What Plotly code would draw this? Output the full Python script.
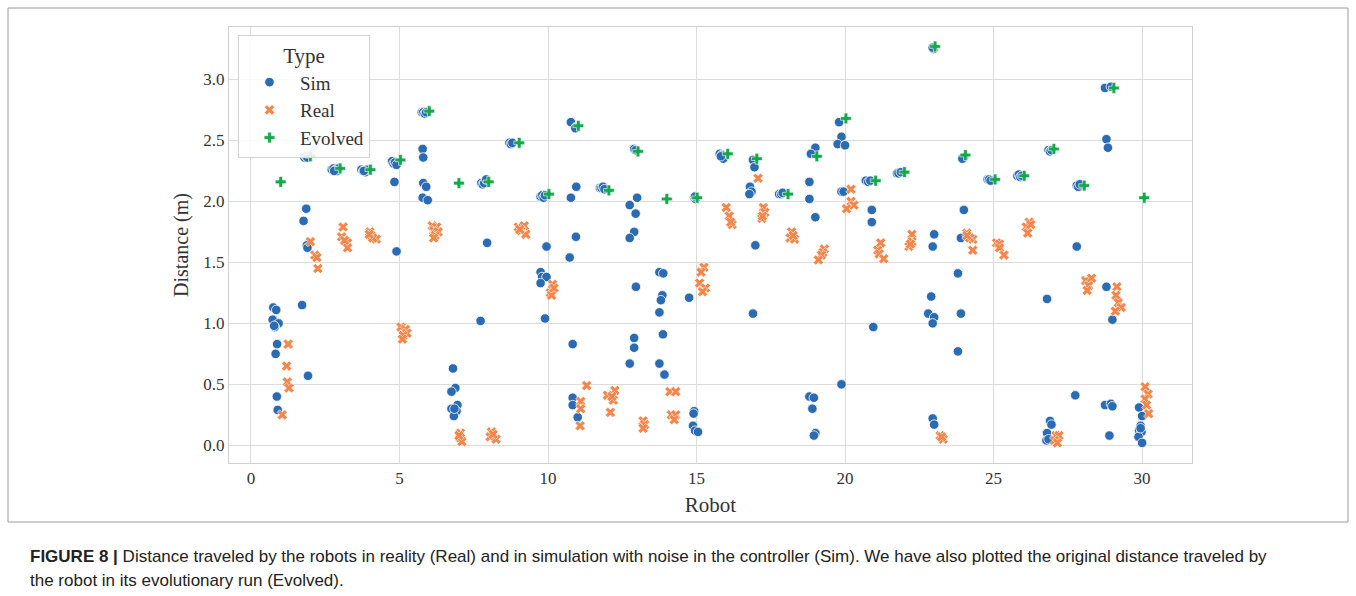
import plotly.graph_objects as go

# ---------------- data ----------------
sim_x = [0.75, 0.85, 0.73, 0.93, 0.80, 0.78, 0.88, 0.83, 0.87, 0.90,
         1.80, 1.85, 1.90, 1.86, 1.77, 1.88, 1.90, 1.72, 1.92,
         2.72, 2.78, 2.85, 2.90, 2.95, 2.80,
         3.72, 3.78, 3.85, 3.90, 3.80,
         4.75, 4.80, 4.85, 4.90, 4.83, 4.90,
         5.75, 5.80, 5.85, 5.90, 5.78, 5.80, 5.80, 5.90, 5.78, 5.95,
         6.80, 6.88, 6.75, 6.95, 6.75, 6.92, 6.83, 6.85,
         7.75, 7.80, 7.85, 7.92, 7.95, 7.73,
         8.70, 8.75, 8.80,
         9.75, 9.80, 9.85, 9.90, 9.95, 9.75, 9.80, 9.95, 9.75, 9.90,
         10.77, 10.95, 10.92, 10.95, 10.77, 10.94, 10.73, 10.83, 10.83, 10.83, 11.00,
         11.75, 11.80, 11.85, 11.90,
         12.90, 12.95, 13.00, 12.75, 12.95, 12.90, 12.75, 12.96, 12.90, 12.90, 12.75,
         13.75, 13.88, 13.85, 13.80, 13.75, 13.87, 13.75, 13.92,
         14.92, 14.97, 14.95, 14.75, 14.92, 14.90, 14.88, 14.95, 15.05,
         15.78, 15.85, 15.90, 15.82,
         16.90, 16.95, 16.80, 16.85, 16.78, 16.98, 16.90,
         17.78, 17.85, 17.90,
         19.00, 18.85, 18.80, 18.80, 19.00, 18.80, 18.95, 18.90, 19.00, 18.95,
         19.80, 19.88, 19.75, 20.00, 19.88, 19.95, 19.88,
         20.70, 20.78, 20.85, 20.90, 20.90, 20.95,
         21.75, 21.80, 21.88,
         22.98, 22.95, 23.00, 22.95, 22.90, 22.80, 23.00, 22.95, 22.95, 23.00,
         24.00, 23.95, 24.00, 23.90, 23.80, 23.90, 23.80,
         24.80, 24.85, 24.90,
         25.80, 25.85, 25.90, 25.95,
         26.85, 26.90, 26.95, 26.80, 26.90, 26.95, 26.80, 26.78, 26.85,
         27.80, 27.85, 27.90, 27.80, 27.75,
         28.75, 28.95, 28.80, 28.85, 28.80, 29.00, 28.75, 28.95, 29.00, 28.90,
         29.90, 30.00, 29.95, 29.90, 29.98, 29.88, 30.00, 29.95]
sim_y = [1.13, 1.11, 1.03, 1.00, 0.97, 0.98, 0.83, 0.75, 0.40, 0.29,
         2.36, 2.37, 2.36, 1.94, 1.84, 1.64, 1.62, 1.15, 0.57,
         2.26, 2.27, 2.26, 2.25, 2.27, 2.25,
         2.26, 2.25, 2.24, 2.26, 2.25,
         2.33, 2.31, 2.32, 2.30, 2.16, 1.59,
         2.73, 2.73, 2.72, 2.73, 2.43, 2.36, 2.15, 2.12, 2.03, 2.01,
         0.63, 0.47, 0.44, 0.33, 0.30, 0.28, 0.24, 0.30,
         2.15, 2.14, 2.15, 2.18, 1.66, 1.02,
         2.48, 2.47, 2.48,
         2.04, 2.05, 2.03, 2.05, 1.63, 1.42, 1.38, 1.38, 1.33, 1.04,
         2.65, 2.61, 2.60, 2.12, 2.03, 1.71, 1.54, 0.83, 0.39, 0.33, 0.23,
         2.11, 2.11, 2.12, 2.10,
         2.43, 2.42, 2.03, 1.97, 1.90, 1.75, 1.70, 1.30, 0.88, 0.80, 0.67,
         1.42, 1.41, 1.23, 1.19, 1.09, 0.91, 0.67, 0.58,
         2.03, 2.02, 2.04, 1.21, 0.28, 0.26, 0.16, 0.12, 0.11,
         2.39, 2.38, 2.35, 2.37,
         2.34, 2.28, 2.12, 2.08, 2.06, 1.64, 1.08,
         2.06, 2.06, 2.07,
         2.44, 2.39, 2.16, 2.02, 1.87, 0.40, 0.39, 0.30, 0.10, 0.08,
         2.65, 2.53, 2.47, 2.46, 2.08, 2.08, 0.50,
         2.17, 2.16, 2.17, 1.93, 1.83, 0.97,
         2.23, 2.23, 2.24,
         3.25, 3.26, 1.73, 1.63, 1.22, 1.08, 1.05, 1.00, 0.22, 0.17,
         2.36, 2.35, 1.93, 1.70, 1.41, 1.08, 0.77,
         2.18, 2.18, 2.17,
         2.21, 2.22, 2.20, 2.21,
         2.42, 2.41, 2.42, 1.20, 0.20, 0.17, 0.10, 0.04, 0.05,
         2.13, 2.12, 2.14, 1.63, 0.41,
         2.93, 2.94, 2.51, 2.44, 1.30, 1.03, 0.33, 0.34, 0.32, 0.08,
         0.31, 0.24, 0.16, 0.12, 0.11, 0.07, 0.02, 0.14]

real_x = [1.25, 1.20, 1.22, 1.28, 1.05,
          2.00, 2.15, 2.22, 2.25,
          3.10, 3.05, 3.25, 3.25, 3.15,
          4.00, 4.05, 4.22, 4.10, 3.98,
          5.05, 5.20, 5.25, 5.12, 5.10,
          6.10, 6.25, 6.15, 6.30, 6.20, 6.15,
          7.05, 7.05, 7.10, 7.00,
          8.10, 8.05, 8.25, 8.15,
          9.00, 9.20, 9.10, 9.25, 9.05,
          10.15, 10.08, 10.12, 10.20,
          11.30, 11.10, 11.10, 11.08,
          12.25, 12.00, 12.20, 12.10, 12.15,
          13.20, 13.25, 13.20,
          14.10, 14.30, 14.15, 14.30, 14.25,
          15.25, 15.15, 15.10, 15.30, 15.20,
          16.00, 16.10, 16.20, 16.15,
          17.07, 17.25, 17.30, 17.20, 17.22,
          18.20, 18.15, 18.30, 18.25,
          19.30, 19.25, 19.20, 19.10,
          20.20, 20.20, 20.30, 20.05,
          21.20, 21.10, 21.15, 21.30,
          22.25, 22.25, 22.15, 22.20,
          23.20, 23.30, 23.25,
          24.10, 24.30, 24.20, 24.30, 24.10,
          25.10, 25.20, 25.20, 25.35,
          26.20, 26.10, 26.15, 26.25,
          27.10, 27.20, 27.05, 27.15,
          28.10, 28.30, 28.20, 28.15,
          29.15, 29.12, 29.20, 29.30, 29.10,
          30.10, 30.20, 30.10, 30.15, 30.22]
real_y = [0.83, 0.65, 0.52, 0.47, 0.25,
          1.67, 1.56, 1.54, 1.45,
          1.79, 1.71, 1.66, 1.62, 1.68,
          1.75, 1.72, 1.69, 1.70, 1.73,
          0.97, 0.95, 0.92, 0.90, 0.87,
          1.80, 1.79, 1.76, 1.75, 1.72, 1.70,
          0.10, 0.06, 0.03, 0.08,
          0.11, 0.07, 0.05, 0.09,
          1.79, 1.80, 1.76, 1.73, 1.77,
          1.32, 1.25, 1.23, 1.29,
          0.49, 0.36, 0.30, 0.16,
          0.45, 0.41, 0.37, 0.27, 0.40,
          0.20, 0.17, 0.14,
          0.44, 0.44, 0.25, 0.25, 0.21,
          1.46, 1.42, 1.33, 1.29, 1.26,
          1.95, 1.88, 1.81, 1.83,
          2.19, 1.95, 1.91, 1.86, 1.88,
          1.75, 1.70, 1.69, 1.72,
          1.61, 1.58, 1.56, 1.52,
          2.10, 2.00, 1.97, 1.94,
          1.66, 1.60, 1.57, 1.53,
          1.73, 1.67, 1.63, 1.65,
          0.08, 0.05, 0.07,
          1.74, 1.69, 1.70, 1.60, 1.72,
          1.66, 1.65, 1.62, 1.56,
          1.83, 1.79, 1.74, 1.81,
          0.08, 0.08, 0.04, 0.02,
          1.35, 1.37, 1.31, 1.27,
          1.30, 1.23, 1.17, 1.13, 1.10,
          0.48, 0.42, 0.38, 0.33, 0.26]

evo_x = [1.00, 2.00, 3.00, 4.02, 5.03, 6.00, 7.00, 8.00, 9.03, 10.03,
         11.02, 12.05, 13.03, 14.00, 15.02, 16.05, 17.03, 18.08, 19.05, 20.03,
         21.03, 22.00, 23.03, 24.05, 25.05, 26.03, 27.03, 28.05, 29.05, 30.07]
evo_y = [2.16, 2.37, 2.27, 2.26, 2.34, 2.74, 2.15, 2.16, 2.48, 2.06,
         2.62, 2.09, 2.41, 2.02, 2.03, 2.39, 2.35, 2.06, 2.37, 2.68,
         2.17, 2.24, 3.27, 2.38, 2.18, 2.21, 2.43, 2.13, 2.93, 2.03]

x_ticks = [0, 5, 10, 15, 20, 25, 30]
y_ticks = [0.0, 0.5, 1.0, 1.5, 2.0, 2.5, 3.0]
y_tick_labels = ["0.0", "0.5", "1.0", "1.5", "2.0", "2.5", "3.0"]

caption_1 = ("<b>FIGURE 8 |</b> Distance traveled by the robots in reality (Real) and in simulation "
             "with noise in the controller (Sim). We have also plotted the original distance traveled by")
caption_2 = "the robot in its evolutionary run (Evolved)."

# ---------------- figure ----------------
SERIF = "Liberation Serif, Times New Roman, serif"
SANS = "Liberation Sans, Arial, sans-serif"
BLUE = "#2a6bb3"
ORANGE = "#f58549"
GREEN = "#13a84a"
TXT = "#333333"

fig = go.Figure()
fig.add_trace(go.Scatter(x=sim_x, y=sim_y, mode="markers", name="Sim",
                         marker=dict(symbol="circle", size=9.5, color=BLUE,
                                     line=dict(color="white", width=0.8))))
fig.add_trace(go.Scatter(x=real_x, y=real_y, mode="markers", name="Real",
                         marker=dict(symbol="x", size=9, color=ORANGE,
                                     line=dict(color="white", width=0.6))))
fig.add_trace(go.Scatter(x=evo_x, y=evo_y, mode="markers", name="Evolved",
                         marker=dict(symbol="cross", size=9, color=GREEN,
                                     line=dict(color="white", width=0.6))))

L, R, T, B = 229, 164, 27, 133
W, H = 1356, 596
pw, ph = W - L - R, H - T - B


def px(xp):
    return (xp - L) / pw


def py(yp):
    return (H - B - yp) / ph


fig.update_layout(
    width=W, height=H,
    margin=dict(l=L, r=R, t=T, b=B),
    paper_bgcolor="white", plot_bgcolor="white",
    font=dict(family=SERIF, color=TXT, size=16),
    showlegend=True,
    legend=dict(title=dict(text="Type", font=dict(size=21, family=SERIF, color=TXT),
                           side="top center"),
                x=px(238), y=py(35), xanchor="left", yanchor="top",
                bgcolor="rgba(255,255,255,0.85)", bordercolor="#d4d4d4", borderwidth=1,
                font=dict(size=19, family=SERIF, color=TXT),
                itemwidth=51),
    xaxis=dict(range=[-0.74, 31.68], tickvals=x_ticks, showgrid=True, gridcolor="#dcdcdc",
               gridwidth=1.3, zeroline=False, showline=True, linecolor="#d0d0d0", linewidth=1,
               mirror=True, ticks="", tickfont=dict(size=17, family=SERIF, color=TXT),
               title=dict(text="Robot", font=dict(size=21, family=SERIF, color=TXT), standoff=9)),
    yaxis=dict(range=[-0.145, 3.43], tickvals=y_ticks, ticktext=y_tick_labels, showgrid=True,
               gridcolor="#dcdcdc", gridwidth=1.3, zeroline=False, showline=True,
               linecolor="#d0d0d0", linewidth=1, mirror=True, ticks="",
               tickfont=dict(size=17, family=SERIF, color=TXT),
               title=dict(text="Distance (m)", font=dict(size=20, family=SERIF, color=TXT),
                          standoff=9)),
)

# figure frame
fig.add_shape(type="rect", xref="paper", yref="paper",
              x0=px(8), x1=px(1348), y0=py(522), y1=py(8),
              line=dict(color="#9a9a9a", width=1), fillcolor="rgba(0,0,0,0)", layer="below")

fig.add_annotation(text=caption_1, xref="paper", yref="paper", x=px(28), y=py(556),
                   xanchor="left", yanchor="middle", showarrow=False,
                   font=dict(family=SANS, size=17, color="#222222"))
fig.add_annotation(text=caption_2, xref="paper", yref="paper", x=px(28), y=py(580),
                   xanchor="left", yanchor="middle", showarrow=False,
                   font=dict(family=SANS, size=17, color="#222222"))

fig.write_html("out.html")
